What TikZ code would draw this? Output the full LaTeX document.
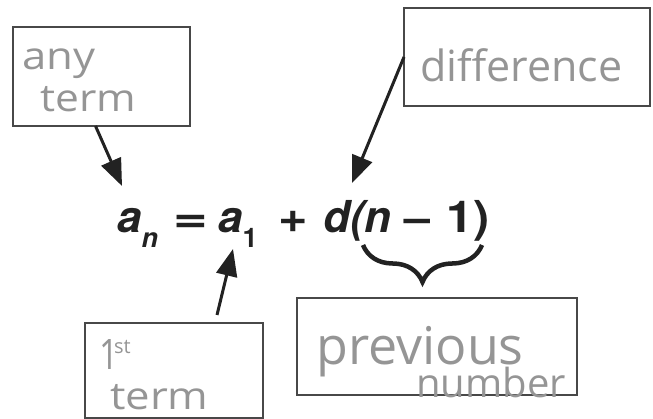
\documentclass[tikz,border=0pt]{standalone}
\usepackage{fontspec}
\usetikzlibrary{arrows.meta,decorations.pathreplacing}
\newfontfamily\handfont{Open Sans}
\newfontfamily\formfont{TeX Gyre Heros}
\definecolor{pencil}{HTML}{959595}
\definecolor{ink}{HTML}{222222}
\definecolor{frame}{HTML}{484848}
\newcommand{\fsz}[1]{\fontsize{#1}{#1}\selectfont}
\newcommand{\eqsub}[1]{\raisebox{-15pt}{\fsz{27}#1}}
\newcommand{\wide}[2]{\scalebox{#1}[1]{#2}}
\begin{document}
\begin{tikzpicture}[
    x=1pt,y=-1pt,
    labelbox/.style={draw=frame,line width=2pt,inner sep=0pt,outer sep=0pt},
    hand/.style={pencil,inner sep=0pt,anchor=base west,font=\handfont\fsz{#1}},
    eqpart/.style={ink,inner sep=0pt,anchor=base west,
        font=\formfont\bfseries\fsz{44}},
    arr/.style={ink,line width=3pt,-{Triangle[length=27pt,width=21pt]}}]
    \useasboundingbox (0,0) rectangle (653,419);
    % boxes
    \node[labelbox,minimum width=177pt,minimum height=99pt] (anybox) at (101.5,76.5) {};
    \node[labelbox,minimum width=246pt,minimum height=98pt] (diffbox) at (527,57) {};
    \node[labelbox,minimum width=178pt,minimum height=95pt] (firstbox) at (174,370.5) {};
    \node[labelbox,minimum width=280pt,minimum height=97pt] (prevbox) at (437,346.5) {};
    % handwriting
    \node[hand=38] (anytxt) at (22,70) {\wide{1.15}{any}};
    \node[hand=38] (termtxt) at (40,112) {\wide{1.12}{term}};
    \node[hand=43] (difftxt) at (420,82) {difference};
    \node[hand=42] (onetxt) at (99,370) {\wide{0.8}{1}};
    \node[hand=20] (sttxt) at (114,353) {st};
    \node[hand=38] (termtxtb) at (110,409) {\wide{1.15}{term}};
    \node[hand=52] (prevtxt) at (316,365) {previous};
    \node[hand=40] (numtxt) at (416,397) {number};
    % formula
    \node[eqpart] (an) at (117,233) {\itshape a\eqsub{n}};
    \node[eqpart] (eqsign) at (173,233) {\wide{1.35}{=}};
    \node[eqpart] (aone) at (218,233) {\itshape a\eqsub{\upshape 1}};
    \node[eqpart] (plus) at (278,233) {\wide{1.15}{+}};
    \node[eqpart] (dn) at (323,233) {\itshape d(n};
    \node[eqpart] (minus) at (400,233) {\wide{1.3}{−}};
    \node[eqpart] (oneparen) at (446,233) {\wide{1.1}{1)}};
    \draw[ink,line width=4.5pt,decorate,decoration={brace,mirror,amplitude=37pt}]
        (363,245) -- (482,245);
    % arrows
    \coordinate (antip) at (122,186);
    \coordinate (difftip) at (352,183);
    \coordinate (aonetip) at (233,249);
    \draw[arr] ([xshift=-6pt]anybox.south) -- (antip);
    \draw[arr] (diffbox.west) -- (difftip);
    \draw[arr] ([xshift=43pt,yshift=8pt]firstbox.north) -- (aonetip);
\end{tikzpicture}
\end{document}
